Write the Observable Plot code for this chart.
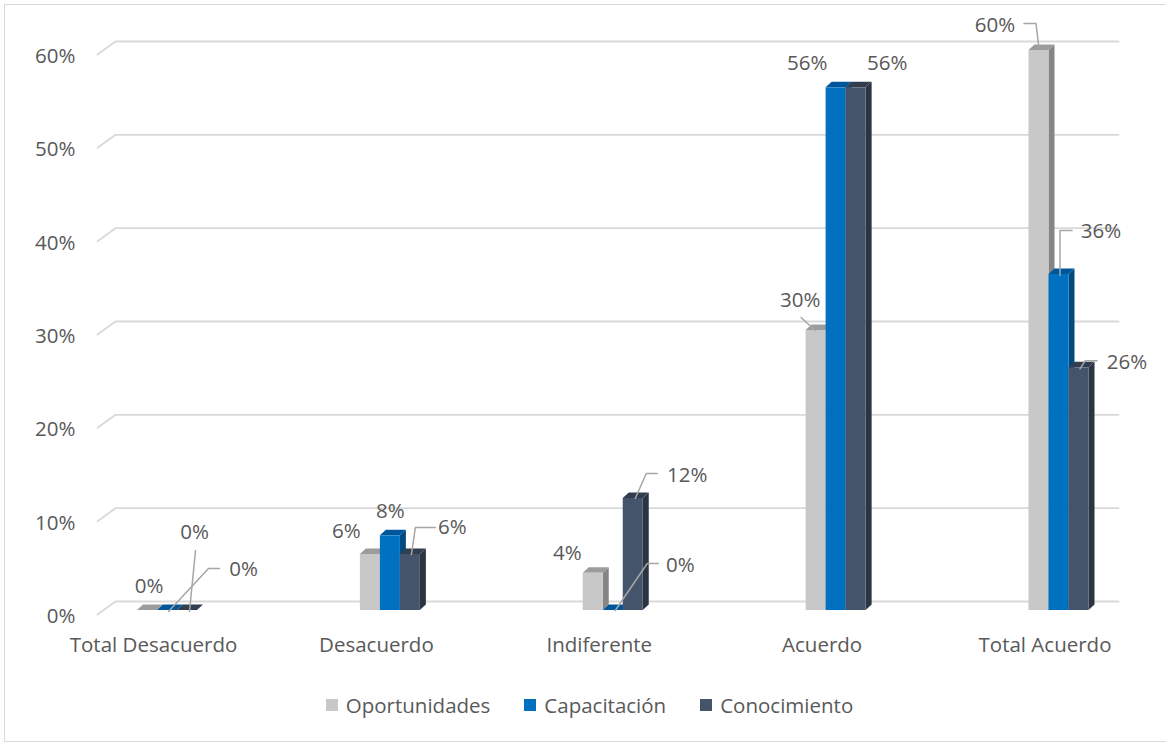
<!DOCTYPE html>
<html>
<head>
<meta charset="utf-8">
<script src="https://cdn.jsdelivr.net/npm/d3@7"></script>
<script src="https://cdn.jsdelivr.net/npm/@observablehq/plot@0.6"></script>
<style>
  html, body { margin: 0; padding: 0; background: #fff; overflow: hidden; }
  #wrap { position: relative; width: 1167px; height: 743px; font-family: "Open Sans", sans-serif; }
  #border { position: absolute; left: 4px; top: 4px; width: 1162px; height: 738px; box-sizing: border-box; border: 1.5px solid #d9d9d9; border-right: none; }
  #chart { position: absolute; left: 0; top: 0; }
  #legend { position: absolute; left: 6px; width: 1167px; top: 690px; height: 30px; display: flex; justify-content: center; align-items: center; font-size: 20.5px; color: #595959; }
  .item { display: flex; align-items: center; margin: 0 17px; }
  .sw { width: 12px; height: 12px; margin-right: 8px; }
</style>
</head>
<body>
<div id="wrap">
  <div id="border"></div>
  <div id="chart"></div>
  <div id="legend"></div>
</div>
<script>
// ---- data ----
const categories = ["Total Desacuerdo", "Desacuerdo", "Indiferente", "Acuerdo", "Total Acuerdo"];
const seriesNames = ["Oportunidades", "Capacitación", "Conocimiento"];
const oportunidades = [0, 6, 4, 30, 60];
const capacitacion = [0, 8, 0, 56, 36];
const conocimiento = [0, 6, 12, 56, 26];
const yTicks = [0, 10, 20, 30, 40, 50, 60];

// ---- styles / layout (kept separate from data) ----
const frontColors = ["#c8c8c8", "#0070c0", "#44546a"];
const topColors = ["#9c9c9c", "#00569a", "#323e4f"];
const sideColors = ["#858585", "#004a82", "#2a3442"];

// label placement in pixels relative to the front-top centre of each bar: [dx, dy, leaderPoints]
const labelLayout = [
  [[1.5, -24.5, null], [-24, -23, null], [-26, -20, null], [-16, -30.5, [[-15, -13], [-1, 0]]], [-44, -25.5, [[-15, -27], [-3, -27], [0, -2]]]],
  [[27, -78, [[28, -60], [22, 1]]], [0, -24, null], [67, -45, [[45, -47], [34, -47], [2, 0]]], [-29, -24, null], [42, -43, [[13, -44], [1, -44], [1, 1]]]],
  [[56, -41, [[32, -42], [21, -42], [-19, 1]]], [42, -27, [[25, -27], [5, -27], [1, 0]]], [54, -23, [[24, -25], [13, -25], [2, 0]]], [31, -24, null], [48, -5, [[18, -7], [6, -7], [1, 1]]]]
];

const X0 = 153, X1 = 1044.5, Y0 = 610, Y1 = 50;
const KX = (X1 - X0) / 4, KY = (Y0 - Y1) / 60;
const px2x = p => p / KX;          // pixel offset -> x data offset
const px2y = p => -p / KY;         // pixel offset (down +) -> y data offset

const values = [oportunidades, capacitacion, conocimiento];
const BW = px2x(20), DX = px2x(6), DY = 5.5 / KY;

const bars = [];
values.forEach((arr, s) => arr.forEach((v, i) => {
  const xl = i + px2x(14 + (s - 1.5) * 20);
  bars.push({id: s + "-" + i, s, i, v, xl, xr: xl + BW, cx: xl + BW / 2});
}));

const tops = bars.flatMap(b => [
  {id: b.id, s: b.s, y: b.v, x1: b.xl, x2: b.xr},
  {id: b.id, s: b.s, y: b.v + DY, x1: b.xl + DX, x2: b.xr + DX}
]);
const sides = bars.flatMap(b => [
  {id: b.id, s: b.s, x: b.xr, y1: 0, y2: b.v},
  {id: b.id, s: b.s, x: b.xr + DX, y1: DY, y2: b.v + DY}
]);

// back-wall gridlines with the diagonal floor stub at left
const gridPts = yTicks.flatMap(t => [
  {t, x: px2x(97 - X0), y: t + px2y(4)},
  {t, x: px2x(115 - X0), y: t + px2y(-9)},
  {t, x: px2x(1118 - X0), y: t + px2y(-9)}
]);

const labels = bars.map(b => {
  const [dx, dy] = labelLayout[b.s][b.i];
  return {x: b.cx + px2x(dx), y: b.v + px2y(dy), text: b.v + "%"};
});
const leaders = bars.flatMap(b => {
  const pts = labelLayout[b.s][b.i][2];
  return pts ? pts.map(([dx, dy]) => ({id: b.id, x: b.cx + px2x(dx), y: b.v + px2y(dy)})) : [];
});

const marks = [
  Plot.line(gridPts, {x: "x", y: "y", z: "t", stroke: "#d9d9d9", strokeWidth: 1.8}),
  Plot.text(yTicks, {x: px2x(75 - X0), y: d => d, dy: 6, text: d => d + "%", textAnchor: "end", fill: "#595959"}),
  Plot.text(categories, {x: (d, i) => i, y: 0, dy: 35, text: d => d, fill: "#595959"})
];
[0, 1, 2].forEach(s => {
  marks.push(Plot.areaY(sides.filter(d => d.s === s), {x: "x", y1: "y1", y2: "y2", z: "id", fill: sideColors[s]}));
  marks.push(Plot.areaX(tops.filter(d => d.s === s), {y: "y", x1: "x1", x2: "x2", z: "id", fill: topColors[s]}));
  marks.push(Plot.rect(bars.filter(d => d.s === s), {x1: "xl", x2: "xr", y1: 0, y2: "v", fill: frontColors[s]}));
});
marks.push(Plot.line(leaders, {x: "x", y: "y", z: "id", stroke: "#a6a6a6", strokeWidth: 1.5}));
marks.push(Plot.text(labels, {x: "x", y: "y", text: "text", fill: "#595959"}));

const chart = Plot.plot({
  width: 1167,
  height: 680,
  margin: 0,
  x: {domain: [0, 4], range: [X0, X1], axis: null},
  y: {domain: [0, 60], range: [Y0, Y1], axis: null},
  style: {fontFamily: "'Open Sans', sans-serif", fontSize: "20.5px", background: "transparent", overflow: "visible"},
  marks
});
document.getElementById("chart").appendChild(chart);

const legend = document.getElementById("legend");
seriesNames.forEach((n, s) => {
  const it = document.createElement("div");
  it.className = "item";
  const sw = document.createElement("div");
  sw.className = "sw";
  sw.style.background = frontColors[s];
  const tx = document.createElement("span");
  tx.textContent = n;
  it.appendChild(sw); it.appendChild(tx);
  legend.appendChild(it);
});
</script>
</body>
</html>
